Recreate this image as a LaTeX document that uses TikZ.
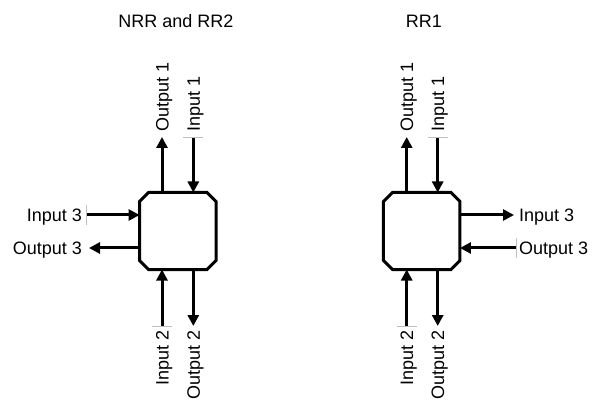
\documentclass[tikz,border=0pt]{standalone}
\usepackage{fontspec}
\setmainfont{Liberation Sans}
\usetikzlibrary{arrows.meta,calc}
\newcommand\octabox[1]{%
  \draw[boxframe] ([xshift=9pt]#1.north west) -- ([xshift=-9pt]#1.north east)
    -- ([yshift=-9pt]#1.north east) -- ([yshift=9pt]#1.south east)
    -- ([xshift=-9pt]#1.south east) -- ([xshift=9pt]#1.south west)
    -- ([yshift=9pt]#1.south west) -- ([yshift=-9pt]#1.north west) -- cycle;}
\begin{document}
\begin{tikzpicture}[x=1pt,y=-1pt,
  lbl/.style={font=\fontsize{18}{21}\selectfont, inner sep=0pt},
  arr/.style={line width=3pt, -{Triangle[length=11pt,width=11pt]}},
  boxframe/.style={line width=3pt, line join=miter},
  tickln/.style={black!25, line width=0.6pt},
  boxnode/.style={minimum width=76.5pt, minimum height=77pt, inner sep=0pt, outer sep=0pt}]
\useasboundingbox[fill=white] (0,0) rectangle (595,401);

% titles
\node[lbl] (tL) at (176,21) {NRR and RR2};
\node[lbl] (tR) at (424,21) {RR1};

% ---------------- left block ----------------
\node[boxnode] (L) at (177.8,231) {};
\octabox{L}

\coordinate (o1L) at (162,137);
\coordinate (i1L) at (193.3,137);
\coordinate (i3L) at (86,215);
\coordinate (o3L) at (89,248);
\coordinate (i2L) at (162,326);
\coordinate (o2L) at (193.3,326);

\draw[arr] (o1L |- L.north) -- (o1L);
\draw[arr] (i1L) -- (i1L |- L.north);
\draw[arr] (i3L) -- (i3L -| L.west);
\draw[arr] (o3L -| L.west) -- (o3L);
\draw[arr] (i2L) -- (i2L |- L.south);
\draw[arr] (o2L |- L.south) -- (o2L);

\draw[tickln] ([xshift=-10pt]i1L) -- ([xshift=10pt]i1L);
\draw[tickln] ([yshift=-10pt]i3L) -- ([yshift=10pt]i3L);
\draw[tickln] ([xshift=-10pt]i2L) -- ([xshift=10pt]i2L);

\node[lbl, rotate=90, anchor=base west] (lo1L) at (168.5,132) {Output 1};
\node[lbl, rotate=90, anchor=base west] (li1L) at (199.8,132) {Input 1};
\node[lbl, anchor=base east] (li3L) at (82,221.5) {Input 3};
\node[lbl, anchor=base east] (lo3L) at (82,254.5) {Output 3};
\node[lbl, rotate=90, anchor=base east] (li2L) at (168.5,330) {Input 2};
\node[lbl, rotate=90, anchor=base east] (lo2L) at (199.8,330) {Output 2};

% ---------------- right block ----------------
\node[boxnode] (R) at (421.7,231) {};
\octabox{R}

\coordinate (o1R) at (406.7,137);
\coordinate (i1R) at (437.7,137);
\coordinate (i3R) at (514,215);
\coordinate (o3R) at (516,248);
\coordinate (i2R) at (406.7,326);
\coordinate (o2R) at (437.7,326);

\draw[arr] (o1R |- R.north) -- (o1R);
\draw[arr] (i1R) -- (i1R |- R.north);
\draw[arr] (i3R -| R.east) -- (i3R);
\draw[arr] (o3R) -- (o3R -| R.east);
\draw[arr] (i2R) -- (i2R |- R.south);
\draw[arr] (o2R |- R.south) -- (o2R);

\draw[tickln] ([xshift=-10pt]i1R) -- ([xshift=10pt]i1R);
\draw[tickln] ([yshift=-10pt]o3R) -- ([yshift=10pt]o3R);
\draw[tickln] ([xshift=-10pt]i2R) -- ([xshift=10pt]i2R);

\node[lbl, rotate=90, anchor=base west] (lo1R) at (413.2,132) {Output 1};
\node[lbl, rotate=90, anchor=base west] (li1R) at (444.2,132) {Input 1};
\node[lbl, anchor=base west] (li3R) at (519,221.5) {Input 3};
\node[lbl, anchor=base west] (lo3R) at (519,254.5) {Output 3};
\node[lbl, rotate=90, anchor=base east] (li2R) at (413.2,330) {Input 2};
\node[lbl, rotate=90, anchor=base east] (lo2R) at (444.2,330) {Output 2};
\end{tikzpicture}
\end{document}
